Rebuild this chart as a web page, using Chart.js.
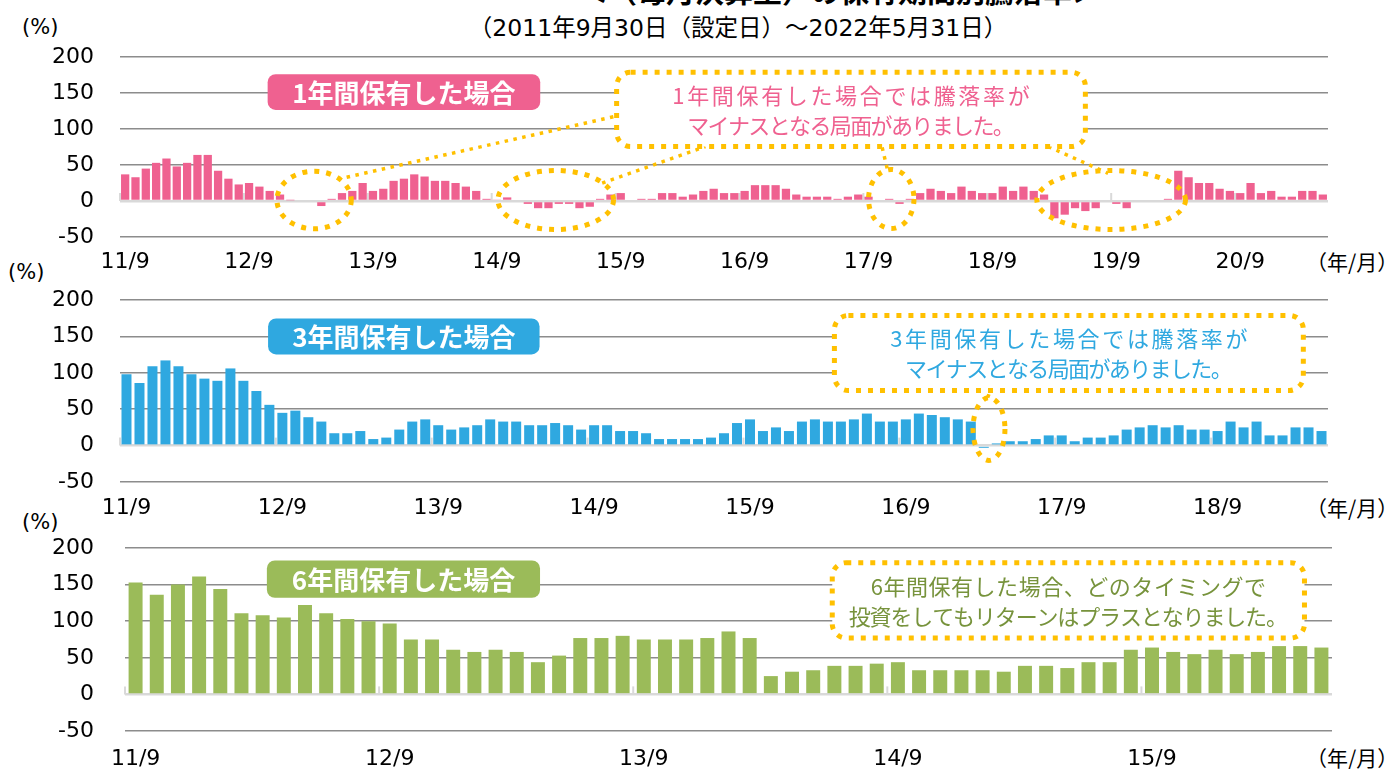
<!DOCTYPE html>
<html lang="ja">
<head>
<meta charset="utf-8">
<script src="https://cdn.jsdelivr.net/npm/chart.js@4.4.1/dist/chart.umd.min.js"></script>
<style>
  body { margin:0; width:1389px; height:769px; overflow:hidden; background:#fff; position:relative;
         font-family:"Noto Sans CJK JP", sans-serif; }
  .panel { position:absolute; left:0; width:1389px; }
  .txt { position:absolute; color:#000; white-space:nowrap; line-height:1; }
  .pct { font-family:"DejaVu Sans", sans-serif; font-size:21px; }
</style>
</head>
<body>
<div class="txt" style="left:0;width:1680px;text-align:center;top:-24px;font-size:29px;font-weight:bold;">＜（毎月決算型）の保有期間別騰落率＞</div>
<div class="txt" style="left:0;width:1476px;text-align:center;top:17px;font-size:23.5px;font-family:'DejaVu Sans','Noto Sans CJK JP',sans-serif;">（2011年9月30日（設定日）～2022年5月31日）</div>

<div class="txt pct" style="left:22px;top:17px;">(%)</div>
<div class="txt pct" style="left:8px;top:262px;">(%)</div>
<div class="txt pct" style="left:22px;top:512px;">(%)</div>
<div class="txt" style="left:1306px;top:251px;font-size:21px;">（年/月）</div>
<div class="txt" style="left:1306px;top:497px;font-size:21px;">（年/月）</div>
<div class="txt" style="left:1306px;top:747px;font-size:21px;">（年/月）</div>

<div class="panel" style="top:40px;height:250px;"><canvas id="c1"></canvas></div>
<div class="panel" style="top:285px;height:250px;"><canvas id="c3"></canvas></div>
<div class="panel" style="top:530px;height:239px;"><canvas id="c6"></canvas></div>

<script>
// 保有期間別の騰落率（%）、2011年9月から毎月
const ret1y = [37, 33, 45, 53, 59, 48, 53, 64, 64, 42, 31, 23, 25, 20, 14, 9, 1, 0, 0, -7,
  3, 11, 14, 25, 14, 17, 28, 31, 37, 34,
  28, 28, 25, 20, 14, 3, 2, 5, 0, -4, -10, -10, -4, -4, -10, -8, 3, 9, 11, 0,
  3, 3, 11, 11, 6, 9, 14, 17, 11, 11,
  14, 22, 22, 22, 17, 9, 6, 6, 6, 3, 6, 9, 6, 0, 3, -4, 3, 11, 17, 14,
  11, 20, 14, 11, 11, 20, 14, 20, 14, 9,
  -24, -19, -10, -14, -10, 0, -4, -10, 0, 0, 0, 3, 42, 33, 25, 25, 17, 14, 11, 25,
  11, 14, 6, 6, 14, 14, 9];
const ret3y = [98, 86, 109, 117, 109, 98, 92, 89, 106, 89, 75, 56, 45, 48, 39, 33, 17, 17, 20, 9,
  11, 22, 33, 36,
  28, 22, 25, 28, 36, 33, 33, 28, 28, 31, 28, 22, 28, 28, 20, 20, 17, 9, 9, 9,
  9, 11, 17, 31,
  36, 20, 25, 20, 33, 36, 33, 33, 36, 44, 33, 33, 36, 44, 42, 39, 36, 33, -3, 3,
  6, 6, 9, 14, 14,
  6, 11, 11, 14, 22, 25, 28, 25, 28, 22, 22, 20, 33, 25, 33, 14, 14, 25, 25, 20];
const ret6y = [153, 136, 150, 161, 144, 111, 108, 105, 122, 111, 103, 100, 97, 75, 75, 61, 58, 61, 58,
  44, 53, 77, 77, 80, 75, 75, 75, 77, 86, 77, 25, 31, 33, 39, 39, 42, 44,
  33, 33, 33, 33, 31, 39, 39, 36, 44, 44, 61, 64, 58, 55, 61, 55, 58, 66, 66, 64];

const ticks1y = ['11/9', '12/9', '13/9', '14/9', '15/9', '16/9', '17/9', '18/9', '19/9', '20/9'];
const ticks3y = ['11/9', '12/9', '13/9', '14/9', '15/9', '16/9', '17/9', '18/9'];
const ticks6y = ['11/9', '12/9', '13/9', '14/9', '15/9'];

// 月ラベル（2011/9 から）
function months(n) {
  const out = [];
  for (let i = 0; i < n; i++) {
    const m = 8 + i;
    out.push((2011 + Math.floor(m / 12)) + '/' + (m % 12 + 1));
  }
  return out;
}

const ORANGE = '#FFC000';

function roundRect(ctx, x, y, w, h, r) {
  ctx.beginPath();
  ctx.moveTo(x + r, y);
  ctx.arcTo(x + w, y, x + w, y + h, r);
  ctx.arcTo(x + w, y + h, x, y + h, r);
  ctx.arcTo(x, y + h, x, y, r);
  ctx.arcTo(x, y, x + w, y, r);
  ctx.closePath();
}

// 年ごとの小さな目盛り（ゼロ線の上）
const yearTicks = {
  id: 'yearTicks',
  beforeDatasetsDraw(chart) {
    const { ctx, chartArea: a, scales: { y } } = chart;
    const n = chart.data.labels.length;
    const y0 = y.getPixelForValue(0);
    ctx.save();
    ctx.strokeStyle = '#d9d9d9';
    ctx.lineWidth = 2;
    for (let i = 0; i < n; i += 12) {
      const x = a.left + i * a.width / n;
      ctx.beginPath();
      ctx.moveTo(x, y0);
      ctx.lineTo(x, y0 - 8);
      ctx.stroke();
    }
    ctx.restore();
  }
};

// 吹き出し・点線の円・見出し
const callouts = {
  id: 'callouts',
  afterDraw(chart, args, o) {
    const { ctx, chartArea: a, scales: { y } } = chart;
    const n = chart.data.labels.length;
    const X = i => a.left + i * a.width / n;
    const Y = v => y.getPixelForValue(v);
    ctx.save();

    ctx.strokeStyle = ORANGE;
    ctx.lineWidth = 3.5;
    ctx.setLineDash([3.5, 5.5]);
    (o.links || []).forEach(l => {
      ctx.beginPath();
      ctx.moveTo(X(l[0]), Y(l[1]));
      ctx.lineTo(X(l[2]), Y(l[3]));
      ctx.stroke();
    });

    ctx.lineWidth = 5;
    ctx.setLineDash([5, 7]);
    (o.rings || []).forEach(r => {
      ctx.beginPath();
      ctx.ellipse(X(r.x), Y(r.y), X(r.x + r.rx) - X(r.x), Y(r.y) - Y(r.y + r.ry), 0, 0, Math.PI * 2);
      ctx.stroke();
    });

    // 見出しバッジ
    const b = o.badge;
    const bx = X(b.x0), bw = X(b.x1) - bx, by = Y(b.y0), bh = Y(b.y1) - by;
    ctx.setLineDash([]);
    ctx.fillStyle = b.color;
    roundRect(ctx, bx, by, bw, bh, 8);
    ctx.fill();
    ctx.fillStyle = '#fff';
    ctx.font = 'bold 26px "Noto Sans CJK JP"';
    ctx.textAlign = 'center';
    ctx.textBaseline = 'middle';
    ctx.fillText(b.text, bx + bw / 2, by + bh / 2 + 1);

    // 点線の吹き出し
    const c = o.box;
    const cx = X(c.x0), cw = X(c.x1) - cx, cy = Y(c.y0), ch = Y(c.y1) - cy;
    ctx.fillStyle = '#fff';
    roundRect(ctx, cx, cy, cw, ch, 14);
    ctx.fill();
    ctx.strokeStyle = ORANGE;
    ctx.lineWidth = 5;
    ctx.setLineDash([5, 7]);
    ctx.stroke();
    ctx.fillStyle = c.color;
    ctx.font = '22px "Noto Sans CJK JP"';
    c.lines.forEach((t, k) => {
      // 元図のプロポーショナル書体に合わせて行幅を調整
      ctx.letterSpacing = '0px';
      const w = ctx.measureText(t).width;
      const ls = (c.widths[k] - w) / t.length;
      ctx.letterSpacing = ls.toFixed(2) + 'px';
      ctx.fillText(t, cx + cw / 2 + ls / 2, cy + ch / 2 + (k - (c.lines.length - 1) / 2) * 30 + 1);
    });
    ctx.letterSpacing = '0px';
    ctx.restore();
  }
};

function makeChart(id, values, ticks, color, box, pad, yWidth, xHeight, tickPad) {
  return new Chart(document.getElementById(id), {
    type: 'bar',
    data: {
      labels: months(values.length),
      datasets: [{
        data: values,
        backgroundColor: color,
        borderWidth: 0,
        categoryPercentage: 1,
        barPercentage: box.barPct,
      }],
    },
    options: {
      responsive: true,
      maintainAspectRatio: false,
      animation: false,
      layout: { padding: pad },
      plugins: {
        legend: { display: false },
        tooltip: { enabled: false },
        callouts: box,
      },
      scales: {
        x: {
          grid: { display: false, drawTicks: false },
          border: { display: false },
          afterFit: s => { s.height = xHeight; },
          ticks: {
            autoSkip: false,
            maxRotation: 0,
            padding: tickPad,
            color: '#000',
            font: { family: '"DejaVu Sans"', size: 22 },
            callback: (v, i) => (i % 12 === 0 ? ticks[i / 12] : ''),
          },
        },
        y: {
          min: -50,
          max: 200,
          grid: {
            drawTicks: true,
            tickLength: yWidth - 94,
            tickColor: 'rgba(0,0,0,0)',
            color: c => (c.tick && c.tick.value === 0 ? '#d9d9d9' : '#8c8c8c'),
            lineWidth: c => (c.tick && c.tick.value === 0 ? 2.5 : 1.5),
          },
          border: { display: false },
          afterFit: s => { s.width = yWidth; },
          ticks: {
            stepSize: 50,
            padding: 0,
            color: '#000',
            font: { family: '"DejaVu Sans"', size: 22 },
          },
        },
      },
    },
    plugins: [yearTicks, callouts],
  });
}

makeChart('c1', ret1y, ticks1y, '#EF6190', {
  barPct: 0.8,
  badge: { x0: 14.3, x1: 40.7, y0: 176, y1: 126.5, color: '#EF6190', text: '1年間保有した場合' },
  box: { x0: 48.1, x1: 93.5, y0: 178.8, y1: 75.6, color: '#EF6190',
         lines: ['1年間保有した場合では騰落率が', 'マイナスとなる局面がありました。'], widths: [360, 326] },
  rings: [
    { x: 18.8, y: 1.4, rx: 3.6, ry: 40 },
    { x: 42.2, y: 1.4, rx: 5.6, ry: 41 },
    { x: 74.7, y: 2.8, rx: 2.2, ry: 41 },
    { x: 96.0, y: 1.4, rx: 7.2, ry: 41 },
  ],
  links: [
    [21.1, 30.3, 48.1, 118],
    [46.7, 24.8, 56.7, 75.6],
    [74.3, 45.4, 73.8, 75.6],
    [89.9, 75.6, 95.7, 38.5],
  ],
}, { top: 17, right: 61, left: 0, bottom: 0 }, 120, 53, 12);

makeChart('c3', ret3y, ticks3y, '#2FA8E0', {
  barPct: 0.77,
  badge: { x0: 11.4, x1: 32.3, y0: 174.7, y1: 125.2, color: '#2FA8E0', text: '3年間保有した場合' },
  box: { x0: 55.0, x1: 91.1, y0: 178.8, y1: 75.7, color: '#2FA8E0',
         lines: ['3年間保有した場合では騰落率が', 'マイナスとなる局面がありました。'], widths: [360, 326] },
  rings: [{ x: 66.9, y: 22.7, rx: 1.23, ry: 43 }],
  links: [[66.8, 66, 67.0, 75.7]],
}, { top: 15, right: 61, left: 0, bottom: 0 }, 120, 53, 13);

makeChart('c6', ret6y, ticks6y, '#9BBB59', {
  barPct: 0.66,
  badge: { x0: 6.7, x1: 19.6, y0: 183, y1: 132, color: '#9BBB59', text: '6年間保有した場合' },
  box: { x0: 33.4, x1: 55.7, y0: 180, y1: 77, color: '#77933C',
         lines: ['6年間保有した場合、どのタイミングで', '投資をしてもリターンはプラスとなりました。'], widths: [396, 438] },
  rings: [],
  links: [],
}, { top: 18, right: 57, left: 0, bottom: 0 }, 125, 38, 15);
</script>
</body>
</html>
